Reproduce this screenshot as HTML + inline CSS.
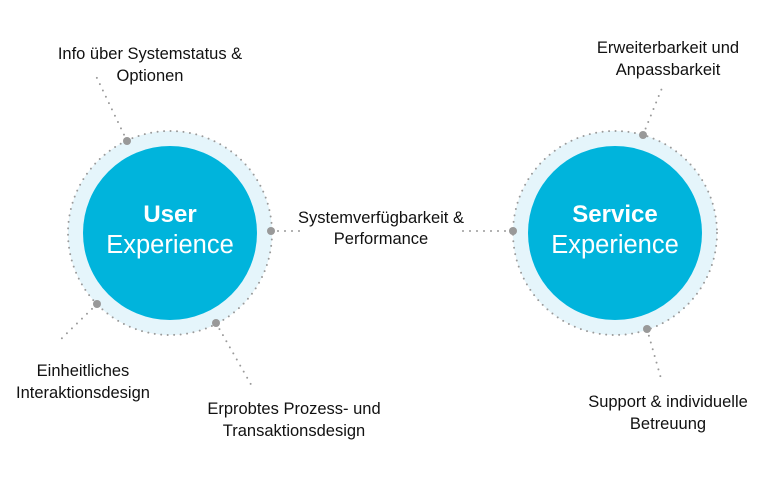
<!DOCTYPE html>
<html><head><meta charset="utf-8"><style>
html,body{margin:0;padding:0;background:#fff;}
svg{display:block;font-family:"Liberation Sans",sans-serif;}
</style></head><body>
<svg width="784" height="480" viewBox="0 0 784 480" xmlns="http://www.w3.org/2000/svg">
<g fill="none" stroke="#9a9a9a" stroke-width="2" stroke-dasharray="0 7" stroke-linecap="round">
<line x1="127" y1="141" x2="96" y2="76"/>
<line x1="97" y1="304" x2="58" y2="342"/>
<line x1="216" y1="323" x2="253" y2="388"/>
<line x1="271" y1="231" x2="300" y2="231"/>
<line x1="463" y1="231" x2="513" y2="231"/>
<line x1="643" y1="135" x2="662" y2="88"/>
<line x1="647" y1="329" x2="662" y2="382"/>
</g>
<circle cx="170" cy="233" r="102" fill="#e5f5fb" stroke="#9a9a9a" stroke-width="2" stroke-dasharray="0 6.5" stroke-linecap="round"/>
<circle cx="170" cy="233" r="87" fill="#00b4dc"/>
<circle cx="615" cy="233" r="102" fill="#e5f5fb" stroke="#9a9a9a" stroke-width="2" stroke-dasharray="0 6.5" stroke-linecap="round"/>
<circle cx="615" cy="233" r="87" fill="#00b4dc"/>
<g fill="#999">
<circle cx="127" cy="141" r="4"/><circle cx="271" cy="231" r="4"/><circle cx="97" cy="304" r="4"/><circle cx="216" cy="323" r="4"/>
<circle cx="643" cy="135" r="4"/><circle cx="513" cy="231" r="4"/><circle cx="647" cy="329" r="4"/>
</g>
<g fill="#fff" text-anchor="middle">
<text x="170" y="222" font-size="24" font-weight="bold">User</text>
<text x="170" y="253" font-size="25.5">Experience</text>
<text x="615" y="222" font-size="24" font-weight="bold">Service</text>
<text x="615" y="253" font-size="25.5">Experience</text>
</g>
<g fill="#111" font-size="16.5" text-anchor="middle">
<text x="150" y="59">Info über Systemstatus &amp;</text>
<text x="150" y="81">Optionen</text>
<text x="381" y="223">Systemverfügbarkeit &amp;</text>
<text x="381" y="244">Performance</text>
<text x="83" y="376">Einheitliches</text>
<text x="83" y="398">Interaktionsdesign</text>
<text x="294" y="414">Erprobtes Prozess- und</text>
<text x="294" y="436">Transaktionsdesign</text>
<text x="668" y="53">Erweiterbarkeit und</text>
<text x="668" y="75">Anpassbarkeit</text>
<text x="668" y="407">Support &amp; individuelle</text>
<text x="668" y="429">Betreuung</text>
</g>
</svg>
</body></html>
